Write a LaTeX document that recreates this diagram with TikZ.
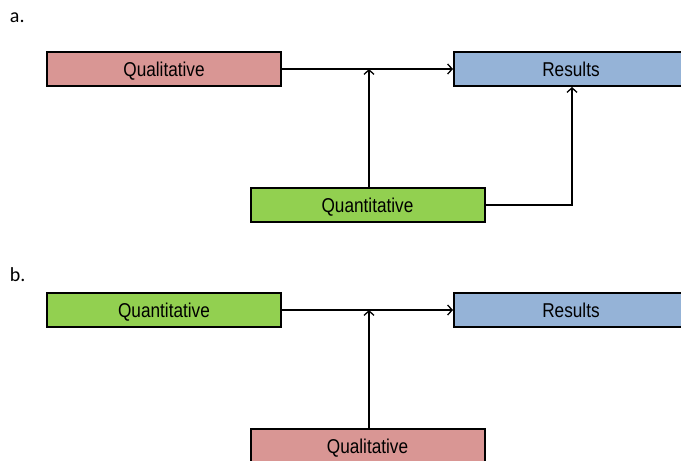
\documentclass[tikz,border=0pt]{standalone}
\usepackage{fontspec}
\setmainfont{Liberation Sans}[FakeStretch=0.86]
\newfontfamily\labelfont{Carlito}
\usepackage{tikz}
\usetikzlibrary{positioning}
\usetikzlibrary{arrows.meta}
\definecolor{qualpink}{RGB}{217,150,148}
\definecolor{quangreen}{RGB}{146,208,80}
\definecolor{resblue}{RGB}{149,179,215}
\tikzset{main box/.style={rectangle,draw,line width=2pt,minimum width=234pt,minimum height=34pt,inner sep=0pt,text depth=0pt,font=\fontsize{20}{22}\selectfont},}

\begin{document}
\begin{tikzpicture}[x=1pt, y=-1pt, >={Straight Barb[length=4.5pt,width=10pt]}, line width=1.3pt]
	\useasboundingbox (0,0) rectangle (681,461);
	\clip (0,0) rectangle (681,461);
	% a.
	\node[anchor=west, font=\labelfont\fontsize{20}{22}\selectfont] (la) at (6,18) {a.};
	\node[main box, fill=qualpink] (qa) at (164,69) {Qualitative};
	\node[main box, fill=resblue, right = 171pt of qa] (ra) {Results};
	\node[main box, fill=quangreen] (na) at (367.5,205) {Quantitative};
	\coordinate (ja) at (369,69);
	\coordinate (ka) at (572,0);

	\draw[->] (qa) -- (ra);
	\draw[->] (na.north -| ja) -- (ja);
	\draw[->] (na.east) -| (ra.south -| ka);

	% b.
	\node[anchor=west, font=\labelfont\fontsize{20}{22}\selectfont] (lb) at (6,275) {b.};
	\node[main box, fill=quangreen] (nb) at (164,310) {Quantitative};
	\node[main box, fill=resblue, right = 171pt of nb] (rb) {Results};
	\node[main box, fill=qualpink] (qb) at (367.5,446) {Qualitative};
	\coordinate (jb) at (369,310);

	\draw[->] (nb) -- (rb);
	\draw[->] (qb.north -| jb) -- (jb);
\end{tikzpicture}
\end{document}
